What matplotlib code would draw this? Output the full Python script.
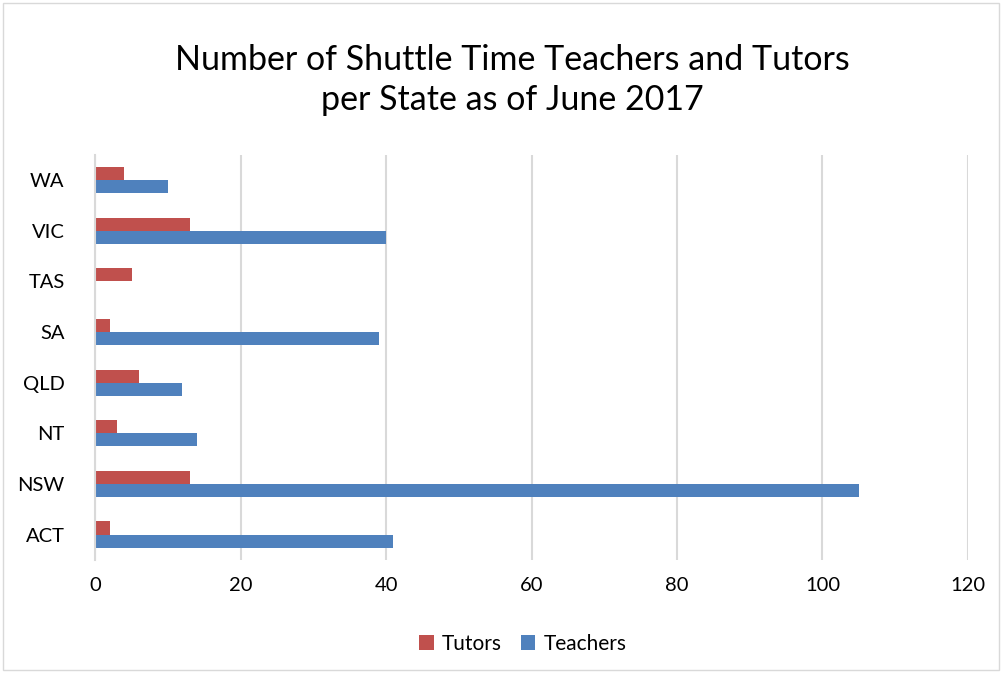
import numpy as np
import matplotlib
matplotlib.use("Agg")
import matplotlib.pyplot as plt
from matplotlib.patches import Rectangle

plt.rcParams['font.family'] = ['Lato', 'DejaVu Sans']

# data (bottom to top as drawn)
states = ['ACT', 'NSW', 'NT', 'QLD', 'SA', 'TAS', 'VIC', 'WA']
tutors = [2, 13, 3, 6, 2, 5, 13, 4]
teachers = [41, 105, 14, 12, 39, 0, 40, 10]

red = '#C0504D'
blue = '#4F81BD'

fig = plt.figure(figsize=(10.02, 6.73), dpi=100)
ax = fig.add_axes([0.095, 0.168, 0.871, 0.602])

y = np.arange(len(states))
h = 0.26
ax.barh(y + h / 2, tutors, height=h, color=red, label='Tutors')
ax.barh(y - h / 2, teachers, height=h, color=blue, label='Teachers')

ax.set_xlim(0, 120)
ax.set_ylim(-0.5, len(states) - 0.5)
ax.set_xticks(range(0, 121, 20))
ax.set_yticks(y)
ax.set_yticklabels(states)
ax.tick_params(length=0, labelsize=14.5, colors='#000000')
ax.tick_params(axis='x', pad=12)
ax.tick_params(axis='y', pad=22)
ax.grid(axis='x', color='#D9D9D9', linewidth=1.5)
ax.set_axisbelow(True)
for s in ['top', 'right', 'bottom']:
    ax.spines[s].set_visible(False)
ax.spines['left'].set_color('#D9D9D9')
ax.spines['left'].set_linewidth(1.5)

fig.text(0.511, 0.881, 'Number of Shuttle Time Teachers and Tutors\nper State as of June 2017',
         ha='center', va='center', fontsize=24.5, linespacing=1.3)

ax.legend(loc='center', bbox_to_anchor=(0.49, -0.207), ncol=2, frameon=False,
          fontsize=15, handlelength=0.7, handleheight=0.7, columnspacing=0.9,
          handletextpad=0.4)

fig.patches.append(Rectangle((0.003, 0.004), 0.994, 0.992, transform=fig.transFigure,
                             fill=False, edgecolor='#D9D9D9', linewidth=1))

fig.savefig('out.png', dpi=100)
